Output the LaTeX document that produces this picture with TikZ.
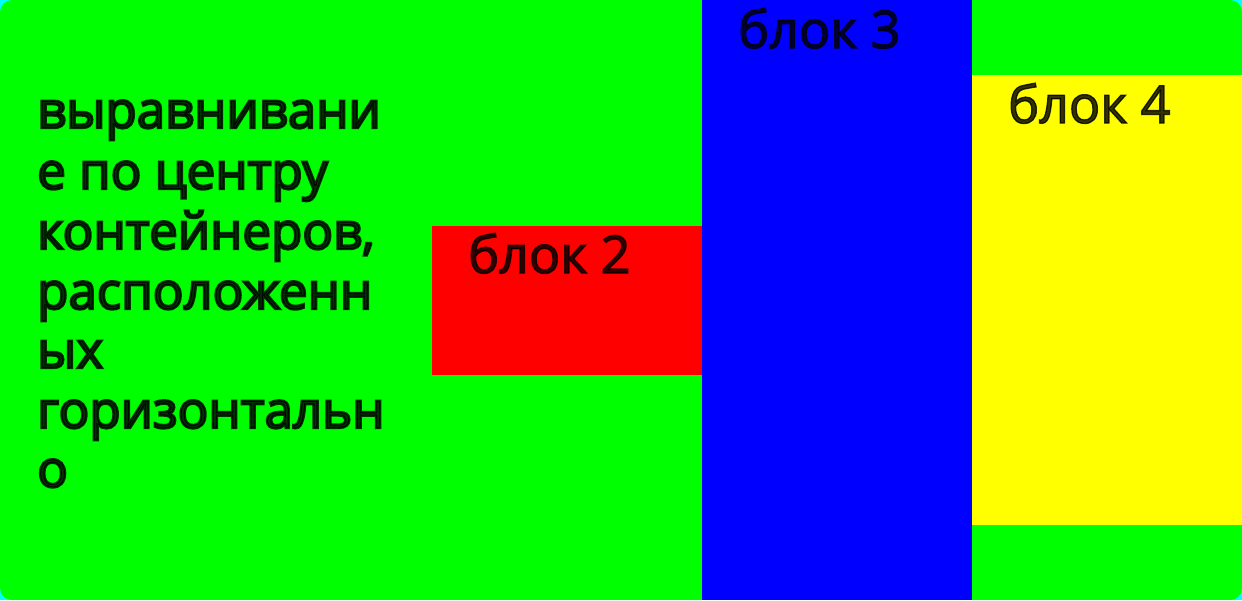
\documentclass[tikz,border=0pt]{standalone}
\usepackage{fontspec}
\setmainfont{Open Sans}
\newfontfamily\labelfont[FakeBold=2.5]{Open Sans}
\newfontfamily\parafont[FakeBold=4.5]{Open Sans}
\definecolor{bggreen}{HTML}{00FF00}
\definecolor{bgcyan}{HTML}{00FFFF}
\definecolor{bred}{HTML}{FF0000}
\definecolor{bblue}{HTML}{0000FF}
\definecolor{byellow}{HTML}{FFFF00}
\begin{document}
\begin{tikzpicture}[x=1pt,y=-1pt,
  lbl/.style={anchor=base west,inner sep=0pt,text=black,text opacity=0.8,font=\labelfont\fontsize{52}{60}\selectfont},
  para/.style={anchor=base west,inner sep=0pt,text=black,text opacity=0.8,font=\parafont\fontsize{51}{60}\selectfont},
  blk/.style={anchor=north west,inner sep=0pt,outer sep=0pt,draw=none}]
\fill[bgcyan] (0,0) rectangle (1242,600);
\useasboundingbox (0,0) rectangle (1242,600);
\begin{scope}
\clip[rounded corners=12pt] (0,0) rectangle (1242,600);
\fill[bggreen] (0,0) rectangle (1242,600);
\node[blk,fill=bred,minimum width=270pt,minimum height=149pt] (b2) at (432,226) {};
\node[blk,fill=bblue,minimum width=270pt,minimum height=600pt] (b3) at (702,0) {};
\node[blk,fill=byellow,minimum width=270pt,minimum height=450pt] (b4) at (972,75) {};
\end{scope}
\node[lbl] (t2) at (468,273) {блок 2};
\node[lbl] (t3) at (738,48) {блок 3};
\node[lbl] (t4) at (1008,123) {блок 4};
\node[para] (p1) at (37,128) {выравнивани};
\node[para] (p2) at (37,189) {е по центру};
\node[para] (p3) at (37,249) {контейнеров,};
\node[para] (p4) at (37,309) {расположенн};
\node[para] (p5) at (37,368) {ых};
\node[para] (p6) at (37,428) {горизонтальн};
\node[para] (p7) at (37,487) {о};
\end{tikzpicture}
\end{document}
